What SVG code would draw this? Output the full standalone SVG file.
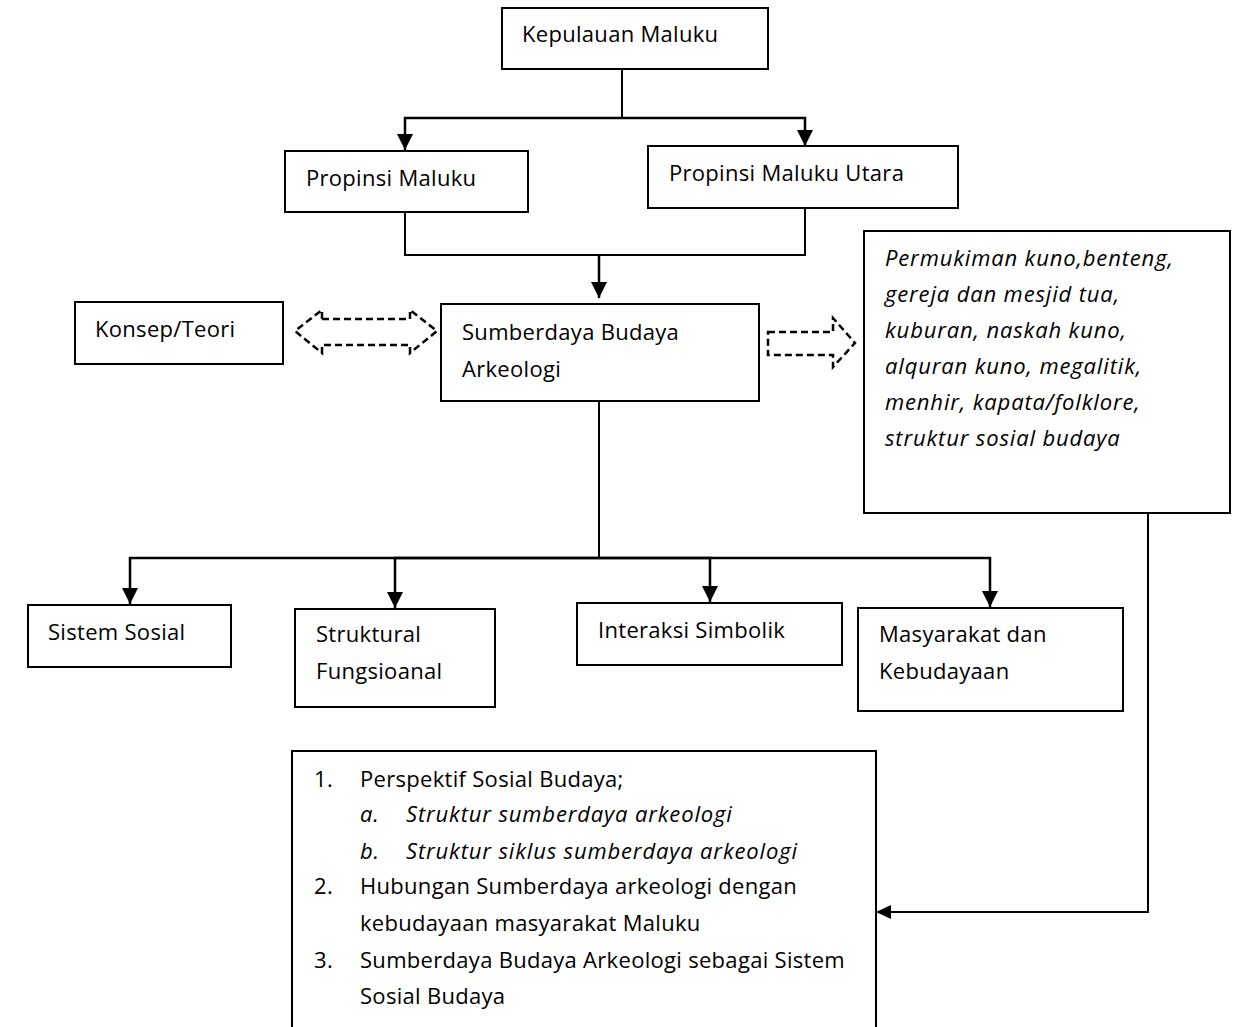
<svg xmlns="http://www.w3.org/2000/svg" width="1246" height="1027" viewBox="0 0 1246 1027">
<style>
.box{fill:#fff;stroke:#000;stroke-width:2}
.t{font-family:"Open Sans","Liberation Sans",sans-serif;font-size:22px;letter-spacing:0.3px;fill:#000}
.i{font-style:italic;letter-spacing:0.85px}
.ln{fill:none;stroke:#000;stroke-width:2}
.ar{fill:none;stroke:#000;stroke-width:2.5}
.dash{fill:none;stroke:#000;stroke-width:2.5;stroke-dasharray:7 4}
</style>
<defs>
<marker id="ah2" viewBox="0 0 16 16" refX="16" refY="8" markerWidth="16" markerHeight="16" markerUnits="userSpaceOnUse" orient="auto">
<path d="M0,0 L16,8 L0,16 Z" fill="#000"/>
</marker>
</defs>
<rect width="1246" height="1027" fill="#fff"/>
<g id="connectors">
<path class="ln" d="M622,69 V118"/>
<path class="ar" d="M622,118 H405 V150" marker-end="url(#ah2)"/>
<path class="ar" d="M622,118 H805 V146" marker-end="url(#ah2)"/>
<path class="ln" d="M405,212 V255 H805 V208"/>
<path class="ar" d="M599,255 V298" marker-end="url(#ah2)"/>
<path class="ln" d="M599,401 V558"/>
<path class="ar" d="M599,558 H130 V604" marker-end="url(#ah2)"/>
<path class="ar" d="M599,558 H395 V608" marker-end="url(#ah2)"/>
<path class="ar" d="M599,558 H710 V602" marker-end="url(#ah2)"/>
<path class="ar" d="M599,558 H990 V607" marker-end="url(#ah2)"/>
<path class="ln" d="M1148,513 V912 H890"/>
<path d="M876,912 L891,905 L891,919 Z" fill="#000"/>
<path class="dash" d="M322,319 H410 V310 L437,331 L410,353 V345 H322 V353 L295,331 L322,310 Z"/>
<path class="dash" d="M768,332 H833 V318 L855,343 L833,367 V355 H768 Z"/>
</g>
<g id="kepulauan">
<rect class="box" x="502" y="8" width="266" height="61"/>
<text class="t" x="522" y="42">Kepulauan Maluku</text>
</g>
<g id="propinsi-maluku">
<rect class="box" x="285" y="151" width="243" height="61"/>
<text class="t" x="306" y="186">Propinsi Maluku</text>
</g>
<g id="propinsi-maluku-utara">
<rect class="box" x="648" y="146" width="310" height="62"/>
<text class="t" x="669" y="181">Propinsi Maluku Utara</text>
</g>
<g id="konsep">
<rect class="box" x="75" y="302" width="208" height="62"/>
<text class="t" x="95" y="337">Konsep/Teori</text>
</g>
<g id="sumberdaya">
<rect class="box" x="441" y="304" width="318" height="97"/>
<text class="t" x="462" y="340">Sumberdaya Budaya</text>
<text class="t" x="462" y="377">Arkeologi</text>
</g>
<g id="permukiman">
<rect class="box" x="864" y="231" width="366" height="282"/>
<text class="t i" x="885" y="266">Permukiman kuno,benteng,</text>
<text class="t i" x="885" y="302">gereja dan mesjid tua,</text>
<text class="t i" x="885" y="338">kuburan, naskah kuno,</text>
<text class="t i" x="885" y="374">alquran kuno, megalitik,</text>
<text class="t i" x="885" y="410">menhir, kapata/folklore,</text>
<text class="t i" x="885" y="446">struktur sosial budaya</text>
</g>
<g id="sistem-sosial">
<rect class="box" x="28" y="605" width="203" height="62"/>
<text class="t" x="48" y="640">Sistem Sosial</text>
</g>
<g id="struktural">
<rect class="box" x="295" y="609" width="200" height="98"/>
<text class="t" x="316" y="642">Struktural</text>
<text class="t" x="316" y="679">Fungsioanal</text>
</g>
<g id="interaksi">
<rect class="box" x="577" y="603" width="265" height="62"/>
<text class="t" x="598" y="638">Interaksi Simbolik</text>
</g>
<g id="masyarakat">
<rect class="box" x="858" y="608" width="265" height="103"/>
<text class="t" x="879" y="642">Masyarakat dan</text>
<text class="t" x="879" y="679">Kebudayaan</text>
</g>
<g id="perspektif">
<path class="ln" d="M292,1027 V751 H876 V1027"/>
<text class="t" x="314" y="787">1.</text>
<text class="t" x="360" y="787">Perspektif Sosial Budaya;</text>
<text class="t i" x="360" y="822">a.</text>
<text class="t i" x="406" y="822">Struktur sumberdaya arkeologi</text>
<text class="t i" x="360" y="859">b.</text>
<text class="t i" x="406" y="859">Struktur siklus sumberdaya arkeologi</text>
<text class="t" x="314" y="894">2.</text>
<text class="t" x="360" y="894">Hubungan Sumberdaya arkeologi dengan</text>
<text class="t" x="360" y="931">kebudayaan masyarakat Maluku</text>
<text class="t" x="314" y="968">3.</text>
<text class="t" x="360" y="968">Sumberdaya Budaya Arkeologi sebagai Sistem</text>
<text class="t" x="360" y="1004">Sosial Budaya</text>
</g>
</svg>
